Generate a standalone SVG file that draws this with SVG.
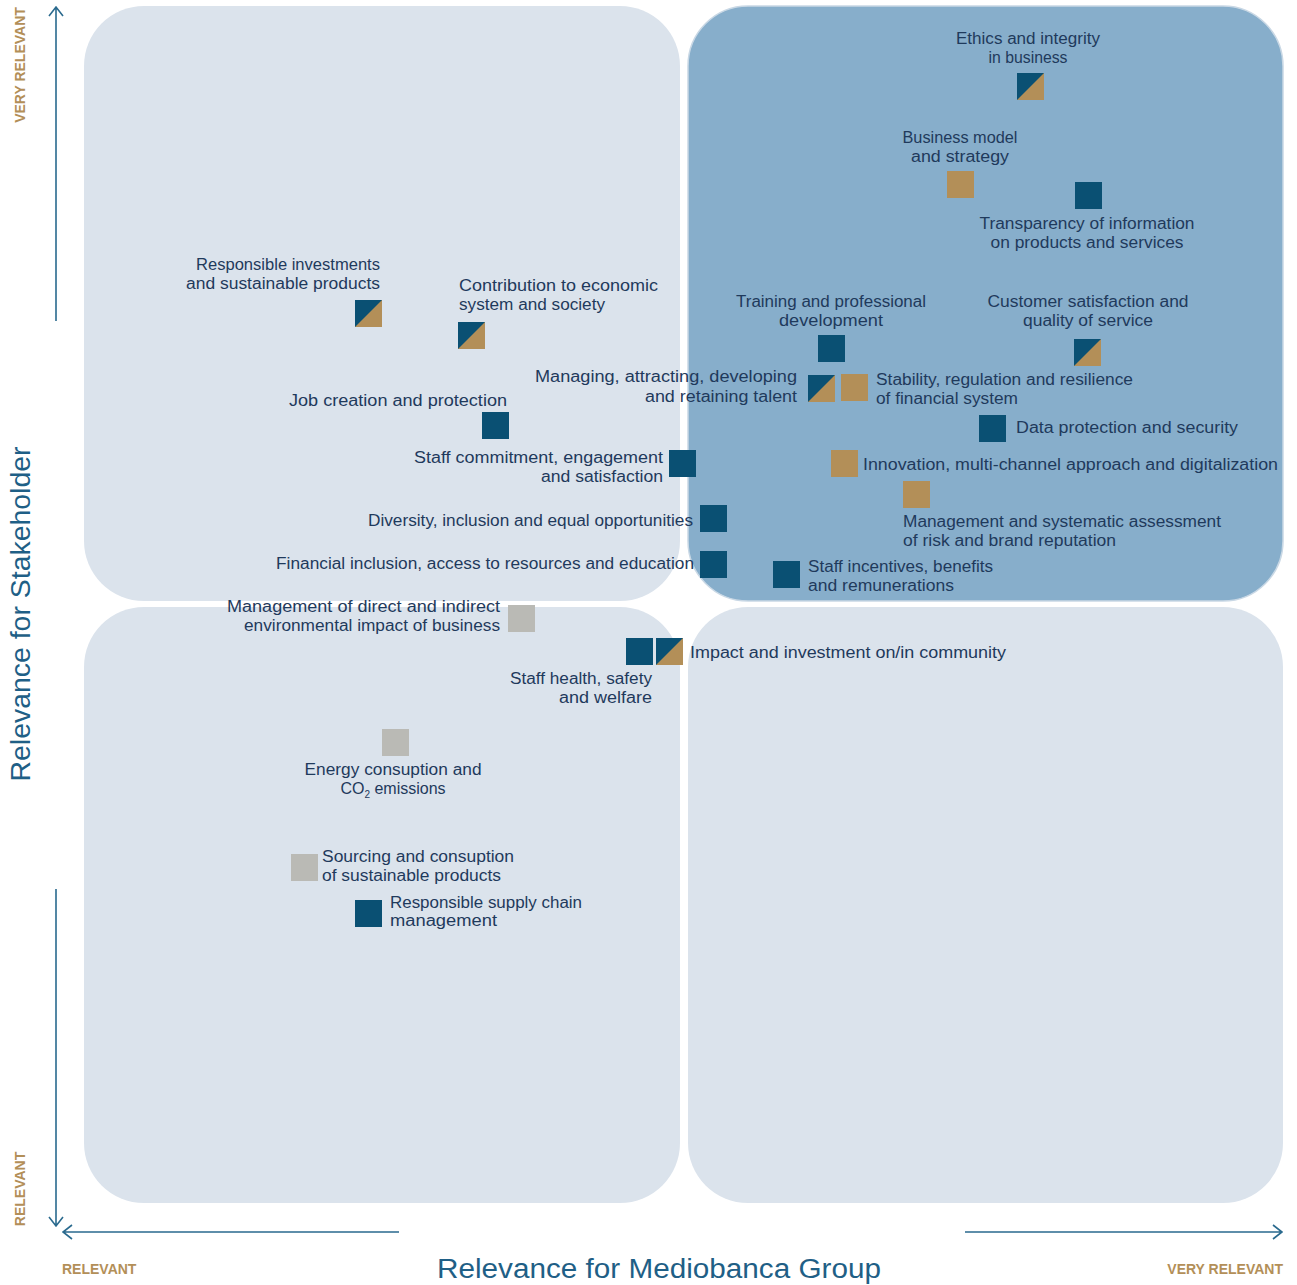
<svg xmlns="http://www.w3.org/2000/svg" width="1297" height="1285" viewBox="0 0 1297 1285">
<style>
.q{fill:#dbe3ec}
.qd{fill:#87aecb;stroke:#c9d8e5;stroke-width:1.5}
.t{font-family:"Liberation Sans",Arial,sans-serif;font-size:16px;fill:#1f3a5c}
.e{text-anchor:end}
.m{text-anchor:middle}
.ax{stroke:#2a6a8e;stroke-width:1.6;fill:none}
.gl{font-family:"Liberation Sans",Arial,sans-serif;font-size:14px;font-weight:bold;fill:#b38f58}
.big{font-family:"Liberation Sans",Arial,sans-serif;font-size:27px;fill:#1f5f86}
.d{fill:#0a5073}
.n{fill:#b38f58}
.g{fill:#babab5}
</style>
<defs>
<g id="half"><rect width="27" height="27" fill="#0a5073"/><polygon points="27,0 27,27 0,27" fill="#b38f58"/></g>
</defs>
<rect width="1297" height="1285" fill="#ffffff"/>
<g id="quadrants">
<rect class="q" x="84" y="6" width="596" height="595" rx="60"/>
<rect class="qd" x="688" y="6" width="595" height="595" rx="60"/>
<rect class="q" x="84" y="607" width="596" height="596" rx="60"/>
<rect class="q" x="688" y="607" width="595" height="596" rx="60"/>
</g>
<g id="connectors">
<path class="ax" d="M56 321 V7 M49 16 L56 7 L63 16"/>
<path class="ax" d="M56 889 V1226 M49 1217 L56 1226 L63 1217"/>
<path class="ax" d="M399 1232 H63 M72 1225 L63 1232 L72 1239"/>
<path class="ax" d="M965 1232 H1282 M1273 1225 L1282 1232 L1273 1239"/>
</g>
<g id="axis-labels">
<text class="gl m" transform="translate(25,65) rotate(-90)">VERY RELEVANT</text>
<text class="gl m" transform="translate(25,1189) rotate(-90)">RELEVANT</text>
<text class="gl" x="62" y="1274">RELEVANT</text>
<text class="gl e" x="1283" y="1274">VERY RELEVANT</text>
<text class="big m" transform="translate(30,614) rotate(-90)" textLength="335" lengthAdjust="spacingAndGlyphs">Relevance for Stakeholder</text>
<text class="big m" x="659" y="1278" textLength="444" lengthAdjust="spacingAndGlyphs">Relevance for Mediobanca Group</text>
</g>
<g id="n-ethics"><use href="#half" x="1017" y="73"/><text class="t m" x="1028" y="44" textLength="144" lengthAdjust="spacingAndGlyphs">Ethics and integrity</text><text class="t m" x="1028" y="63" textLength="79" lengthAdjust="spacingAndGlyphs">in business</text></g>
<g id="n-business"><rect class="n" x="947" y="171" width="27" height="27"/><text class="t m" x="960" y="143" textLength="115" lengthAdjust="spacingAndGlyphs">Business model</text><text class="t m" x="960" y="162" textLength="98" lengthAdjust="spacingAndGlyphs">and strategy</text></g>
<g id="n-transparency"><rect class="d" x="1075" y="182" width="27" height="27"/><text class="t m" x="1087" y="229" textLength="215" lengthAdjust="spacingAndGlyphs">Transparency of information</text><text class="t m" x="1087" y="248" textLength="193" lengthAdjust="spacingAndGlyphs">on products and services</text></g>
<g id="n-resp-invest"><use href="#half" x="355" y="300"/><text class="t e" x="380" y="270" textLength="184" lengthAdjust="spacingAndGlyphs">Responsible investments</text><text class="t e" x="380" y="289" textLength="194" lengthAdjust="spacingAndGlyphs">and sustainable products</text></g>
<g id="n-contribution"><use href="#half" x="458" y="322"/><text class="t" x="459" y="291" textLength="199" lengthAdjust="spacingAndGlyphs">Contribution to economic</text><text class="t" x="459" y="310" textLength="146" lengthAdjust="spacingAndGlyphs">system and society</text></g>
<g id="n-training"><rect class="d" x="818" y="335" width="27" height="27"/><text class="t m" x="831" y="307" textLength="190" lengthAdjust="spacingAndGlyphs">Training and professional</text><text class="t m" x="831" y="326" textLength="104" lengthAdjust="spacingAndGlyphs">development</text></g>
<g id="n-customer"><use href="#half" x="1074" y="339"/><text class="t m" x="1088" y="307" textLength="201" lengthAdjust="spacingAndGlyphs">Customer satisfaction and</text><text class="t m" x="1088" y="326" textLength="130" lengthAdjust="spacingAndGlyphs">quality of service</text></g>
<g id="n-managing"><use href="#half" x="808" y="375"/><text class="t e" x="797" y="382" textLength="262" lengthAdjust="spacingAndGlyphs">Managing, attracting, developing</text><text class="t e" x="797" y="402" textLength="152" lengthAdjust="spacingAndGlyphs">and retaining talent</text></g>
<g id="n-stability"><rect class="n" x="841" y="374" width="27" height="27"/><text class="t" x="876" y="385" textLength="257" lengthAdjust="spacingAndGlyphs">Stability, regulation and resilience</text><text class="t" x="876" y="404" textLength="142" lengthAdjust="spacingAndGlyphs">of financial system</text></g>
<g id="n-job"><rect class="d" x="482" y="412" width="27" height="27"/><text class="t e" x="507" y="406" textLength="218" lengthAdjust="spacingAndGlyphs">Job creation and protection</text></g>
<g id="n-data"><rect class="d" x="979" y="415" width="27" height="27"/><text class="t" x="1016" y="433" textLength="222" lengthAdjust="spacingAndGlyphs">Data protection and security</text></g>
<g id="n-staff-commit"><rect class="d" x="669" y="450" width="27" height="27"/><text class="t e" x="663" y="463" textLength="249" lengthAdjust="spacingAndGlyphs">Staff commitment, engagement</text><text class="t e" x="663" y="482" textLength="122" lengthAdjust="spacingAndGlyphs">and satisfaction</text></g>
<g id="n-innovation"><rect class="n" x="831" y="450" width="27" height="27"/><text class="t" x="863" y="470" textLength="415" lengthAdjust="spacingAndGlyphs">Innovation, multi-channel approach and digitalization</text></g>
<g id="n-risk"><rect class="n" x="903" y="481" width="27" height="27"/><text class="t" x="903" y="527" textLength="318" lengthAdjust="spacingAndGlyphs">Management and systematic assessment</text><text class="t" x="903" y="546" textLength="213" lengthAdjust="spacingAndGlyphs">of risk and brand reputation</text></g>
<g id="n-diversity"><rect class="d" x="700" y="505" width="27" height="27"/><text class="t e" x="693" y="526" textLength="325" lengthAdjust="spacingAndGlyphs">Diversity, inclusion and equal opportunities</text></g>
<g id="n-fin-incl"><rect class="d" x="700" y="551" width="27" height="27"/><text class="t e" x="694" y="569" textLength="418" lengthAdjust="spacingAndGlyphs">Financial inclusion, access to resources and education</text></g>
<g id="n-incentives"><rect class="d" x="773" y="561" width="27" height="27"/><text class="t" x="808" y="572" textLength="185" lengthAdjust="spacingAndGlyphs">Staff incentives, benefits</text><text class="t" x="808" y="591" textLength="146" lengthAdjust="spacingAndGlyphs">and remunerations</text></g>
<g id="n-env"><rect class="g" x="508" y="605" width="27" height="27"/><text class="t e" x="500" y="612" textLength="273" lengthAdjust="spacingAndGlyphs">Management of direct and indirect</text><text class="t e" x="500" y="631" textLength="256" lengthAdjust="spacingAndGlyphs">environmental impact of business</text></g>
<g id="n-health"><rect class="d" x="626" y="638" width="27" height="27"/><text class="t e" x="652" y="684" textLength="142" lengthAdjust="spacingAndGlyphs">Staff health, safety</text><text class="t e" x="652" y="703" textLength="93" lengthAdjust="spacingAndGlyphs">and welfare</text></g>
<g id="n-impact"><use href="#half" x="656" y="638"/><text class="t" x="690" y="658" textLength="316" lengthAdjust="spacingAndGlyphs">Impact and investment on/in community</text></g>
<g id="n-energy"><rect class="g" x="382" y="729" width="27" height="27"/><text class="t m" x="393" y="775" textLength="177" lengthAdjust="spacingAndGlyphs">Energy consuption and</text><text class="t m" x="393" y="794">CO<tspan font-size="10" dy="4">2</tspan><tspan dy="-4"> emissions</tspan></text></g>
<g id="n-sourcing"><rect class="g" x="291" y="854" width="27" height="27"/><text class="t" x="322" y="862" textLength="192" lengthAdjust="spacingAndGlyphs">Sourcing and consuption</text><text class="t" x="322" y="881" textLength="179" lengthAdjust="spacingAndGlyphs">of sustainable products</text></g>
<g id="n-supply"><rect class="d" x="355" y="900" width="27" height="27"/><text class="t" x="390" y="908" textLength="192" lengthAdjust="spacingAndGlyphs">Responsible supply chain</text><text class="t" x="390" y="926" textLength="107" lengthAdjust="spacingAndGlyphs">management</text></g>
</svg>
